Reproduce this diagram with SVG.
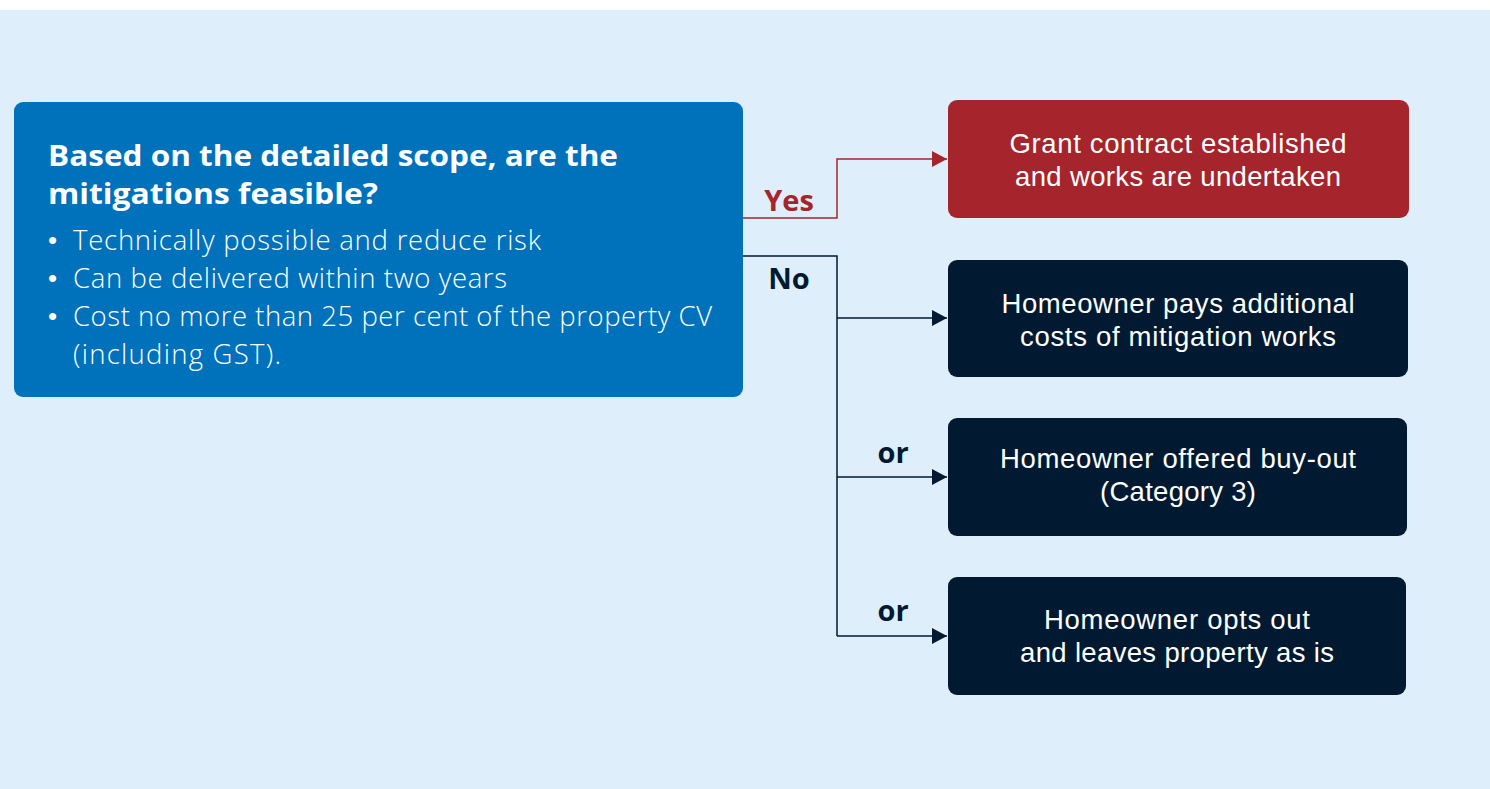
<svg xmlns="http://www.w3.org/2000/svg" width="1490" height="789" viewBox="0 0 1490 789">
<defs>
<style>
.body{font-family:"Open Sans","Liberation Sans",sans-serif;font-size:27.5px;fill:#ffffff;font-weight:300}
.bul{font-family:"Liberation Sans",sans-serif;font-size:26px;fill:#ffffff}
.node{font-family:"Liberation Sans",Arial,sans-serif;font-size:27.5px;fill:#ffffff;text-anchor:middle}
.head{font-family:"Open Sans","Liberation Sans",sans-serif;font-size:29px;font-weight:700;fill:#ffffff}
.lbl{font-family:"Open Sans","Liberation Sans",sans-serif;font-size:29px;font-weight:700;text-anchor:middle}
.dark{fill:#011a31}
.line{fill:none;stroke-width:1.5}
</style>
<marker id="arrD" markerWidth="16" markerHeight="16" refX="15" refY="8" orient="auto" markerUnits="userSpaceOnUse"><path d="M0,0 L15,8 L0,16 Z" fill="#011a31"/></marker>
<marker id="arrR" markerWidth="16" markerHeight="16" refX="15" refY="8" orient="auto" markerUnits="userSpaceOnUse"><path d="M0,0 L15,8 L0,16 Z" fill="#a6242b"/></marker>
</defs>
<rect x="0" y="0" width="1490" height="789" fill="#ffffff"/>
<rect x="0" y="10" width="1490" height="779" fill="#dfeefb"/>
<g id="connectors">
<path class="line" d="M743,218 H837 V159 H947" stroke="#a6242b" marker-end="url(#arrR)"/>
<path class="line" d="M743,256 H837 V636" stroke="#011a31"/>
<path class="line" d="M837,318 H947" stroke="#011a31" marker-end="url(#arrD)"/>
<path class="line" d="M837,477 H947" stroke="#011a31" marker-end="url(#arrD)"/>
<path class="line" d="M837,636 H947" stroke="#011a31" marker-end="url(#arrD)"/>
<text class="lbl" x="789" y="211" fill="#a6242b">Yes</text>
<text class="lbl" x="789" y="289" fill="#011a31">No</text>
<text class="lbl" x="893" y="463" fill="#011a31">or</text>
<text class="lbl" x="893" y="621" fill="#011a31">or</text>
</g>
<g id="question">
<rect x="14" y="102" width="729" height="295" rx="9" fill="#0071bb"/>
<text class="head" x="48" y="166" textLength="570" lengthAdjust="spacingAndGlyphs">Based on the detailed scope, are the</text>
<text class="head" x="48" y="204" textLength="330" lengthAdjust="spacingAndGlyphs">mitigations feasible?</text>
<text class="bul" x="48" y="249">•</text>
<text class="bul" x="48" y="287">•</text>
<text class="bul" x="48" y="325">•</text>
<text class="body" x="73" y="250" textLength="468">Technically possible and reduce risk</text>
<text class="body" x="73" y="288" textLength="434">Can be delivered within two years</text>
<text class="body" x="73" y="326" textLength="639">Cost no more than 25 per cent of the property CV</text>
<text class="body" x="73" y="364" textLength="208">(including GST).</text>
</g>
<g id="grant">
<rect x="948" y="100" width="461" height="118" rx="9" fill="#a6242b"/>
<text class="node" x="1178" y="153" textLength="337">Grant contract established</text>
<text class="node" x="1178" y="186" textLength="326">and works are undertaken</text>
</g>
<g id="pays">
<rect class="dark" x="948" y="260" width="460" height="117" rx="9"/>
<text class="node" x="1178" y="313" textLength="353">Homeowner pays additional</text>
<text class="node" x="1178" y="346" textLength="316">costs of mitigation works</text>
</g>
<g id="buyout">
<rect class="dark" x="948" y="418" width="459" height="118" rx="9"/>
<text class="node" x="1178" y="468" textLength="356">Homeowner offered buy-out</text>
<text class="node" x="1178" y="501" textLength="156">(Category 3)</text>
</g>
<g id="optout">
<rect class="dark" x="948" y="577" width="458" height="118" rx="9"/>
<text class="node" x="1177" y="629" textLength="266">Homeowner opts out</text>
<text class="node" x="1177" y="662" textLength="314">and leaves property as is</text>
</g>
</svg>
